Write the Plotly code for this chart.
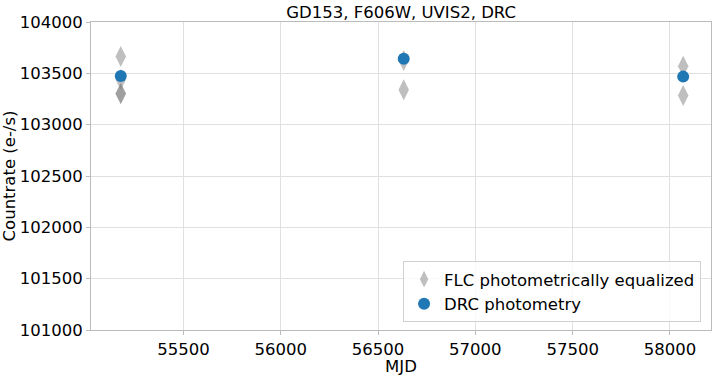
import plotly.graph_objects as go

flc_mjd = [55178, 55178, 55178, 55178, 56632, 56632, 58068, 58068]
flc_rate = [103665, 103440, 103305, 103298, 103625, 103341, 103570, 103285]
drc_mjd = [55178, 56632, 58068]
drc_rate = [103475, 103643, 103468]

xticks = [55500, 56000, 56500, 57000, 57500, 58000]
yticks = [101000, 101500, 102000, 102500, 103000, 103500, 104000]

fig = go.Figure()
fig.add_trace(go.Scatter(
    x=flc_mjd, y=flc_rate, mode="markers", name="FLC photometrically equalized",
    marker=dict(symbol="diamond-tall", size=15, color="rgba(128,128,128,0.5)", line=dict(width=0)),
))
fig.add_trace(go.Scatter(
    x=drc_mjd, y=drc_rate, mode="markers", name="DRC photometry",
    marker=dict(symbol="circle", size=12, color="#1f77b4", line=dict(width=0)),
))

FS = 16.5
axis_common = dict(
    showline=True, linecolor="#bbbbbb", linewidth=1, mirror=True,
    showgrid=True, gridcolor="#e0e0e0", gridwidth=1, zeroline=False,
    ticks="outside", ticklen=4, tickcolor="#bbbbbb", automargin=False,
    tickfont=dict(size=FS, color="black"),
)
fig.update_layout(
    width=715, height=376,
    margin=dict(l=91, r=4, t=22, b=46, autoexpand=False),
    paper_bgcolor="white", plot_bgcolor="white",
    font=dict(family="DejaVu Sans", size=FS, color="black"),
    title=dict(text="GD153, F606W, UVIS2, DRC", x=0.561, xanchor="center", y=0.968, yanchor="middle",
               font=dict(size=FS)),
    xaxis=dict(range=[55025, 58211], tickvals=xticks, ticktext=[str(v) for v in xticks],
               title=dict(text="MJD", font=dict(size=FS), standoff=2), **axis_common),
    yaxis=dict(range=[101000, 104000], tickvals=yticks, ticktext=[str(v) for v in yticks],
               title=dict(text="Countrate (e-/s)", font=dict(size=FS), standoff=4), **axis_common),
    legend=dict(x=0.984, y=0.026, xanchor="right", yanchor="bottom",
                bgcolor="rgba(255,255,255,0.8)", bordercolor="#d0d0d0", borderwidth=1,
                font=dict(size=FS), itemsizing="constant", itemwidth=30),
    showlegend=True,
)
fig.write_html("out.html", config={"displayModeBar": False},
               post_script="document.body.style.margin='0';document.body.style.padding='0';")
